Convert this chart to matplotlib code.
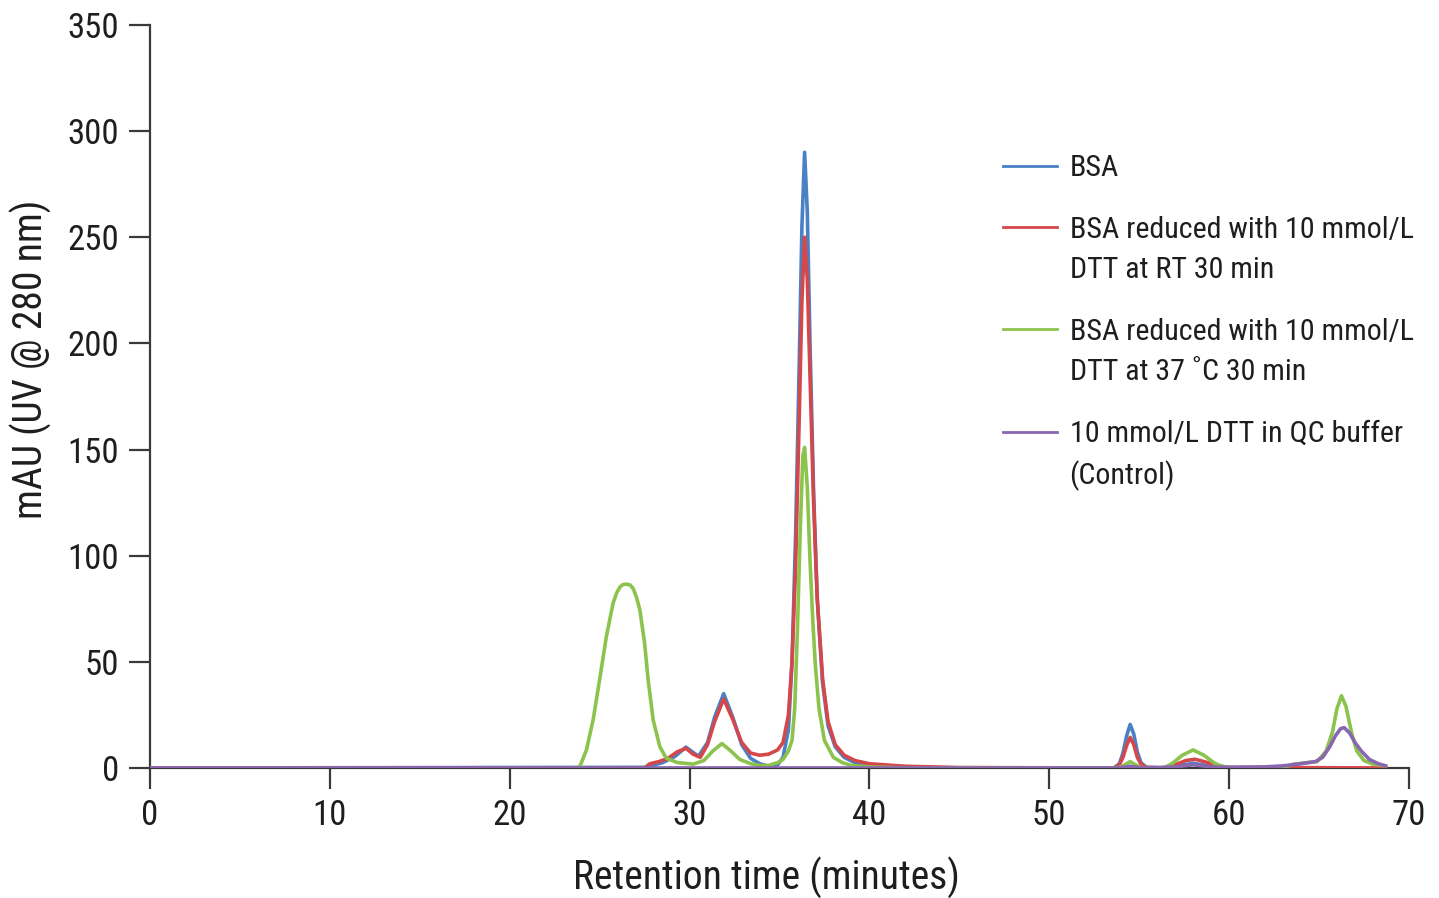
import matplotlib
matplotlib.use("Agg")
import matplotlib.pyplot as plt
from matplotlib.legend_handler import HandlerLine2D

plt.rcParams["font.family"] = ["Roboto Condensed", "DejaVu Sans"]
plt.rcParams["font.stretch"] = "condensed"

# ---------------------------------------------------------------------------
# Chromatogram traces (time in min, signal in mAU)
# ---------------------------------------------------------------------------
bsa_t = [0, 27.5, 28.5, 29.2, 29.8, 30.5, 31.0, 31.4, 31.9, 32.4, 32.9, 33.4,
         33.9, 34.4, 34.9, 35.2, 35.5, 35.7, 35.9, 36.1, 36.25, 36.4, 36.55,
         36.7, 36.9, 37.1, 37.4, 37.7, 38.1, 38.6, 39.2, 40.0, 42.0, 45.0,
         53.6, 53.9, 54.1, 54.3, 54.5, 54.7, 54.9, 55.1, 55.4, 56.5, 57.3,
         58.0, 58.7, 59.5, 60.5, 68.7]
bsa_y = [0, 0.3, 2.5, 5.5, 9.8, 5.5, 12, 24, 35, 24, 11, 4.5,
         2, 0.8, 1.5, 5, 18, 50, 110, 190, 255, 290, 262,
         200, 130, 80, 40, 20, 10, 5, 2.5, 1, 0.3, 0,
         0, 2, 7, 15, 20.5, 16, 7.5, 2.5, 0.3, 0, 1.2,
         2.2, 1.2, 0, -0.5, -0.5]

rt_t = [0, 27.5, 27.8, 28.3, 28.8, 29.3, 29.8, 30.2, 30.6, 31.0, 31.4, 31.9,
        32.4, 32.9, 33.4, 33.9, 34.4, 34.9, 35.2, 35.5, 35.7, 35.9, 36.1,
        36.25, 36.4, 36.55, 36.7, 36.9, 37.1, 37.4, 37.7, 38.1, 38.6, 39.2,
        40.0, 42.0, 45.0, 53.6, 53.9, 54.1, 54.3, 54.5, 54.7, 54.9, 55.1,
        55.4, 56.3, 57.0, 57.6, 58.1, 58.7, 59.4, 60.0, 68.7]
rt_y = [0, 0, 2, 3, 4.5, 7.5, 9.3, 6.5, 5, 11, 22, 32.5,
        23, 12, 7, 6, 6.5, 8.5, 12, 25, 50, 95, 165,
        220, 250, 230, 185, 125, 80, 42, 22, 11, 6, 3.5,
        2, 0.8, 0.2, 0, 1.5, 5, 10.5, 14.4, 11, 5, 1.8,
        0.3, 0, 1.5, 3.5, 4.1, 2.8, 1, 0.3, 0]

c37_t = [0, 23.5, 23.9, 24.27, 24.64, 25.0, 25.38, 25.75, 25.95, 26.13, 26.3,
         26.5, 26.7, 26.87, 27.05, 27.24, 27.5, 27.7, 27.98, 28.35, 28.7, 29.3,
         30.2, 30.8, 31.3, 31.8, 32.3, 32.8, 33.4, 33.9, 34.4, 34.9, 35.2,
         35.5, 35.7, 35.85, 36.0, 36.15, 36.3, 36.4, 36.55, 36.7, 36.85, 37.0,
         37.2, 37.5, 38.0, 38.5, 39.0, 40.0, 42.0, 53.8, 54.1, 54.5, 54.9,
         55.2, 56.4, 56.9, 57.4, 58.0, 58.6, 59.2, 59.7, 60.3, 63.0, 63.6,
         64.3, 64.9, 65.4, 65.75, 66.0, 66.25, 66.5, 66.8, 67.1, 67.5, 68.0,
         68.7]
c37_y = [-0.5, -0.5, 0.6, 8.5, 22.6, 41.5, 62, 77.6, 82.5, 85.2, 86.4,
         86.6, 86.2, 84.5, 80.5, 74.4, 59, 41.5, 22.6, 10, 4.7, 2.6,
         1.8, 3.5, 8, 11.5, 8, 4, 2, 1.2, 1.2, 2.5, 4,
         8, 13, 28, 65, 110, 147, 151, 132, 98, 70, 48,
         28, 13, 5, 2.5, 1.2, 0.5, 0, 0, 1, 3, 1,
         0, 0, 2.5, 6, 8.5, 6, 2.2, 0.5, 0, 0.3, 1.8,
         2.5, 3, 8, 17, 28, 34, 29, 17, 8, 3.5, 1.8,
         1]

ctrl_t = [0, 53.8, 54.5, 55.2, 57.0, 58.0, 59.0, 60.0, 62.0, 63.0, 64.0, 64.8,
          65.2, 65.6, 65.9, 66.2, 66.4, 66.7, 67.0, 67.35, 67.8, 68.3, 68.7]
ctrl_y = [0, 0, 0.8, 0, 0.5, 1.5, 0.5, 0.3, 0.5, 1, 2, 3,
          5, 10, 15, 18.5, 19, 16.5, 12, 8, 4, 2, 1]

labels = ["BSA",
          "BSA reduced with 10 mmol/L\nDTT at RT 30 min",
          "BSA reduced with 10 mmol/L\nDTT at 37 \u02daC 30 min",
          "10 mmol/L DTT in QC buffer\n(Control)"]
colours = ["#4a80c4", "#d4474b", "#8cc34c", "#8867b0"]

x_ticks = [0, 10, 20, 30, 40, 50, 60, 70]
y_ticks = [0, 50, 100, 150, 200, 250, 300, 350]

LEG_SPACING = 1.55


class FirstLineHandler(HandlerLine2D):
    """Put the legend key next to the first line of a multi-line label."""
    def create_artists(self, legend, orig_handle, xdescent, ydescent,
                       width, height, fontsize, trans):
        artists = super().create_artists(legend, orig_handle, xdescent, ydescent,
                                         width, height, fontsize, trans)
        extra = orig_handle.get_label().count("\n")
        for a in artists:
            a.set_ydata([y + extra * 0.5 * LEG_SPACING * fontsize for y in a.get_ydata()])
        return artists


fig = plt.figure(figsize=(14.39, 8.98), dpi=100)
ax = fig.add_axes([0.1042, 0.1448, 0.8749, 0.8274])

series = [(bsa_t, bsa_y), (rt_t, rt_y), (c37_t, c37_y), (ctrl_t, ctrl_y)]
lines = []
for (t, y), lab, col, z in zip(series, labels, colours, [2, 3, 4, 5]):
    ln, = ax.plot(t, y, color=col, lw=2.6, label=lab, zorder=z,
                  solid_joinstyle="round")
    lines.append(ln)

ax.set_xlim(0, 70)
ax.set_ylim(0, 350)
ax.set_xticks(x_ticks)
ax.set_yticks(y_ticks)
ax.spines[["top", "right"]].set_visible(False)
for s in ["left", "bottom"]:
    ax.spines[s].set_color("#3a3a3a")
    ax.spines[s].set_linewidth(1.6)
ax.tick_params(axis="both", length=15, width=1.6, color="#3a3a3a",
               labelsize=25, pad=7, labelcolor="#1e1e1e")

ax.set_xlabel("Retention time (minutes)", fontsize=28.5, color="#1e1e1e")
ax.set_ylabel("mAU (UV @ 280 nm)", fontsize=28.5, color="#1e1e1e")
ax.xaxis.set_label_coords(0.49, -0.12)
ax.yaxis.set_label_coords(-0.078, 0.55)

leg = ax.legend(handles=lines, loc="upper left", bbox_to_anchor=(0.6775, 0.826),
                frameon=False, fontsize=21.6, handlelength=1.8, handletextpad=0.42,
                labelspacing=1.12, borderpad=0, borderaxespad=0,
                handler_map={l: FirstLineHandler() for l in lines})
for txt in leg.get_texts():
    txt.set_linespacing(LEG_SPACING)
    txt.set_color("#1e1e1e")
for h in leg.legend_handles:
    h.set_linewidth(2.0)

fig.savefig("out.png", dpi=100)
